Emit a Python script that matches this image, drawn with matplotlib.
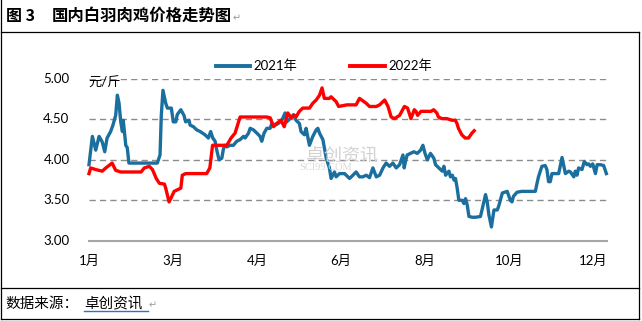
"""
国内白羽肉鸡价格走势图 — 2021 / 2022 对比
"""

import matplotlib

matplotlib.use("Agg")
import matplotlib.pyplot as plt
from matplotlib.lines import Line2D

plt.rcParams["font.family"] = ["Lato", "Noto Sans CJK SC", "DejaVu Sans"]

# ─── Données (index = jour de cotation, 0 = début janvier) ────────────────────

blue_x = [0, 1.6, 3.2, 4.8, 5.7, 6.3, 7.5, 8.6, 10.3, 11.4, 12.7, 13.5, 14.3, 15.1,
          15.9, 16.3, 17.5, 18.2, 19.0, 32.5, 33.8, 34.4, 35.2, 36.5, 37.3, 39.2,
          40.1, 41.3, 42.0, 43.7, 45.2, 46.0, 47.6, 48.1, 49.7, 51.3, 52.9, 55.2,
          56.8, 57.9, 58.9, 60.0, 60.8, 61.9, 63.2, 64.0, 64.8, 65.6, 67.1, 68.7,
          70.3, 71.9, 73.5, 74.3, 75.9, 76.7, 78.3, 79.9, 81.4, 82.2, 83.3, 84.6,
          86.2, 87.0, 88.6, 90.1, 91.8, 93.3, 94.1, 95.7, 97.3, 98.5, 100.1, 100.9,
          102.5, 103.3, 104.9, 106.5, 108.1, 108.9, 109.7, 111.3, 112.9, 114.4,
          115.2, 116.8, 117.6, 119.2, 121.6, 124.0, 125.6, 127.1, 128.7, 130.3,
          131.9, 133.5, 135.1, 136.7, 138.3, 139.9, 141.4, 143.0, 144.6, 146.2,
          147.8, 149.4, 150.0, 150.6, 151.4, 153.0, 154.6, 156.2, 157.8, 158.9,
          159.9, 161.0, 162.5, 164.1, 164.9, 166.5, 168.1, 168.9, 169.7, 171.3,
          172.0, 172.9, 173.7, 174.4, 175.2, 176.0, 177.6, 178.4, 179.2, 180.0,
          180.8, 182.4, 184.0, 186.3, 187.9, 188.7, 189.5, 190.3, 191.5, 192.7,
          194.3, 195.1, 196.7, 199.0, 200.5, 201.3, 202.0, 203.7, 206.0, 212.4,
          213.2, 213.9, 215.5, 217.1, 217.9, 218.7, 219.5, 220.3, 223.5, 224.3,
          225.1, 225.9, 226.7, 228.3, 229.1, 230.7, 231.4, 232.2, 233.0, 234.6,
          235.7, 237.0, 237.8, 238.6, 239.7, 241.0, 241.8, 243.3, 244.9, 246.2]
blue_y = [3.94, 4.29, 4.12, 4.29, 4.25, 4.22, 4.10, 4.27, 4.35, 4.43, 4.55, 4.80, 4.70, 4.47,
          4.35, 4.49, 4.18, 4.15, 3.96, 3.96, 4.06, 4.55, 4.86, 4.70, 4.64, 4.64,
          4.47, 4.47, 4.56, 4.62, 4.55, 4.47, 4.49, 4.43, 4.41, 4.37, 4.35, 4.31,
          4.27, 4.35, 4.27, 4.23, 4.12, 4.00, 4.02, 4.14, 4.18, 4.16, 4.18, 4.18,
          4.23, 4.25, 4.29, 4.27, 4.33, 4.39, 4.37, 4.33, 4.29, 4.23, 4.33, 4.39,
          4.39, 4.45, 4.43, 4.45, 4.49, 4.58, 4.47, 4.51, 4.56, 4.49, 4.45, 4.35,
          4.31, 4.39, 4.18, 4.29, 4.37, 4.39, 4.33, 4.25, 4.02, 3.90,
          3.77, 3.85, 3.79, 3.83, 3.83, 3.77, 3.81, 3.85, 3.79, 3.79,
          3.81, 3.78, 3.90, 3.79, 3.81, 3.90, 3.96, 3.92, 3.96, 3.90,
          3.94, 4.06, 3.90, 3.98, 4.06, 4.08, 4.10, 4.08, 4.12, 4.18,
          4.08, 4.00, 4.08, 4.02, 3.94, 3.90, 3.86, 3.92, 3.81, 3.86,
          3.79, 3.81, 3.75, 3.77, 3.65, 3.50, 3.50, 3.46, 3.52, 3.44,
          3.30, 3.29, 3.29, 3.30, 3.48, 3.57, 3.48, 3.32, 3.17, 3.38,
          3.38, 3.44, 3.59, 3.61, 3.50, 3.48, 3.55, 3.60, 3.61, 3.61,
          3.71, 3.79, 3.92, 3.93, 3.88, 3.73, 3.73, 3.83, 3.83, 3.93,
          4.03, 3.93, 3.83, 3.86, 3.85, 3.79, 3.86, 3.81, 3.90, 3.88,
          3.98, 3.94, 3.95, 3.92, 3.95, 3.83, 3.94, 3.94, 3.93, 3.83]

red_x = [0, 0.8, 3.2, 6.3, 8.0, 11.0, 12.7, 15.1, 24.8, 26.3, 28.7, 30.2, 32.0, 33.5,
         35.9, 36.5, 38.1, 38.9, 40.5, 43.7, 44.4, 46.0, 56.0, 57.5, 58.8, 65.6,
         67.6, 69.5, 71.9, 84.6, 86.2, 87.8, 89.3, 91.3, 92.9, 94.6, 96.2, 97.6,
         98.5, 100.1, 101.7, 104.9, 106.5, 108.1, 109.7, 110.9, 112.0, 114.4, 115.2,
         117.6, 118.8, 122.7, 127.1, 128.7, 130.3, 131.9, 133.5, 136.7, 138.3, 140.7,
         142.3, 143.8, 145.4, 147.8, 150.1, 151.6, 153.2, 154.8, 155.6, 156.4, 158.0,
         161.2, 162.8, 164.0, 165.5, 166.3, 167.9, 170.3, 172.7, 174.3, 175.1, 175.8,
         177.4, 179.0, 180.6, 182.2, 183.3]
red_y = [3.83, 3.90, 3.88, 3.86, 3.90, 3.96, 3.87, 3.85, 3.85, 3.90, 3.92, 3.88, 3.77, 3.71,
         3.70, 3.65, 3.48, 3.52, 3.61, 3.65, 3.81, 3.83, 3.83, 3.90, 4.18, 4.18,
         4.27, 4.33, 4.53, 4.53, 4.52, 4.41, 4.45, 4.49, 4.41, 4.58, 4.52, 4.55,
         4.53, 4.60, 4.64, 4.64, 4.70, 4.74, 4.80, 4.89, 4.76, 4.76, 4.78,
         4.72, 4.66, 4.68, 4.68, 4.76, 4.73, 4.70, 4.66, 4.66, 4.68, 4.74,
         4.66, 4.53, 4.51, 4.55, 4.66, 4.64, 4.51, 4.62, 4.60, 4.55, 4.60,
         4.60, 4.60, 4.62, 4.58, 4.53, 4.51, 4.51, 4.49, 4.49, 4.45, 4.39,
         4.31, 4.27, 4.27, 4.33, 4.36]

month_ticks = [0, 40, 80, 120, 160, 200, 240]
month_labels = ["1月", "3月", "4月", "6月", "8月", "10月", "12月"]
y_ticks = [3.0, 3.5, 4.0, 4.5, 5.0]
series_names = ["2021年", "2022年"]

BLUE = "#1b6f9f"
RED = "#ff0000"
W, H = 642, 321


def fx(x):
    return x / W


def fy(y):
    return 1 - y / H


# ─── Figure ───────────────────────────────────────────────────────────────────

fig = plt.figure(figsize=(W / 100, H / 100), dpi=100)
ax = fig.add_axes([fx(89), fy(240.7), (607 - 89) / W, (240.7 - 79) / H])

for yv in y_ticks[1:]:
    ax.axhline(yv, color="#8c8c8c", lw=1.0, ls=(0, (4.5, 3)), zorder=1)

ax.plot(blue_x, blue_y, color=BLUE, lw=2.4, solid_joinstyle="round", zorder=3, clip_on=False)
ax.plot(red_x, red_y, color=RED, lw=2.4, solid_joinstyle="round", zorder=3, clip_on=False)

ax.set_xlim(0, 246.5)
ax.set_ylim(3.0, 5.0)
ax.set_xticks(month_ticks)
ax.set_xticklabels(month_labels)
ax.set_yticks(y_ticks)
ax.set_yticklabels([f"{v:.2f}" for v in y_ticks])
ax.tick_params(axis="both", length=0, labelsize=9.5, colors="#000000")
ax.tick_params(axis="x", pad=10)
ax.tick_params(axis="y", pad=14)
for lab in ax.get_yticklabels():
    lab.set_y(lab.get_position()[1])
    lab.set_verticalalignment("center")

for side in ["top", "right", "left"]:
    ax.spines[side].set_visible(False)
ax.spines["bottom"].set_color("#a6a6a6")
ax.spines["bottom"].set_linewidth(1.5)
ax.set_facecolor("none")

# unité
fig.text(fx(88), fy(83), "元/斤", fontsize=9.5, ha="left", va="center")

# filigrane
fig.text(fx(342), fy(155), "卓创资讯", fontsize=13, color="#d2d2d2", ha="center", va="center", zorder=0)
fig.text(fx(326), fy(168), "SCI99.COM", fontsize=7.5, color="#d8d8d8", ha="center", va="center",
         family="Liberation Serif", zorder=0)

# légende
legend_handles = [Line2D([], [], color=BLUE, lw=2.8), Line2D([], [], color=RED, lw=2.8)]
fig.legend(legend_handles, series_names, loc="center", bbox_to_anchor=(fx(324), fy(66)),
           ncol=2, frameon=False, fontsize=9.5, handlelength=2.6, handletextpad=0.25,
           columnspacing=4.0)

# ─── Cadre du tableau ─────────────────────────────────────────────────────────

border = dict(color="#000000", lw=0.9, transform=fig.transFigure)
fig.add_artist(Line2D([fx(1), fx(1)], [fy(0), fy(318.7)], **border))
fig.add_artist(Line2D([fx(639), fx(639)], [fy(31.7), fy(318.7)], **border))
fig.add_artist(Line2D([fx(1), fx(639)], [fy(31.7), fy(31.7)], **border))
fig.add_artist(Line2D([fx(1), fx(639)], [fy(287.7), fy(287.7)], **border))
fig.add_artist(Line2D([fx(1), fx(639)], [fy(318.7), fy(318.7)], **border))

# titre
fig.text(fx(6), fy(16), "图 3", fontsize=11.5, fontweight="bold", ha="left", va="center",
         family=["Noto Sans CJK SC"])
fig.text(fx(52), fy(16), "国内白羽肉鸡价格走势图", fontsize=11.8, fontweight="bold",
         ha="left", va="center", family=["Noto Sans CJK SC"])
fig.text(fx(233), fy(18), "↵", fontsize=7, color="#9a9a9a", ha="left", va="center",
         family=["DejaVu Sans"])

# source
fig.text(fx(5), fy(304), "数据来源：", fontsize=10.5, ha="left", va="center",
         family=["Noto Sans CJK SC"])
fig.text(fx(84), fy(304), "卓创资讯", fontsize=10.5, ha="left", va="center",
         family=["Noto Sans CJK SC"])
fig.add_artist(Line2D([fx(84), fx(148)], [fy(311), fy(311)], color="#2f6fd6", lw=1.0,
                      transform=fig.transFigure))
fig.text(fx(149), fy(305), "↵", fontsize=7, color="#9a9a9a", ha="left", va="center",
         family=["DejaVu Sans"])

fig.savefig("out.png", dpi=100)
